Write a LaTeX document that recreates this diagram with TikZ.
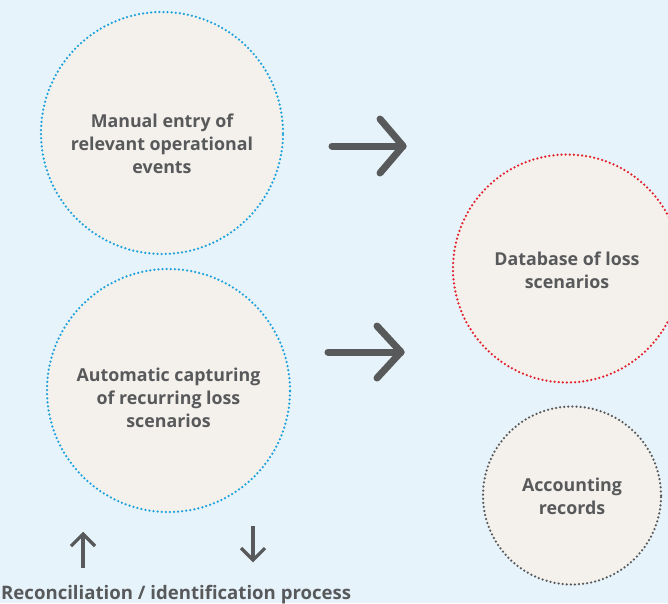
\documentclass[tikz,border=0pt]{standalone}
\usepackage{fontspec}
\setmainfont{Open Sans}
\definecolor{bg}{HTML}{E6F3FA}
\definecolor{bubblefill}{HTML}{F4F1EC}
\definecolor{ink}{HTML}{58595B}
\definecolor{dotblue}{HTML}{1BA1DC}
\definecolor{dotred}{HTML}{E3202A}
\definecolor{dotgrey}{HTML}{58595B}
\begin{document}
\begin{tikzpicture}[x=1pt,y=-1pt,
  bubble/.style={circle, fill=bubblefill, draw=#1, line width=2.5pt,
    dash pattern=on 0pt off 4.1pt, line cap=round, inner sep=0pt},
  caption/.style={text=ink, font=\bfseries\fontsize{17.8}{23}\selectfont,
    align=center, inner sep=0pt},
  bigarrow/.style={draw=ink, line width=7pt, line cap=round, line join=round},
  thinarrow/.style={draw=ink, line width=3.2pt, line cap=butt, line join=miter}]
  % background and page frame
  \fill[bg] (0,0) rectangle (668,603);
  \useasboundingbox (0,0) rectangle (668,603);

  % the four bubbles
  \node[bubble=dotblue, minimum size=242pt] (manual) at (162,133) {};
  \node[bubble=dotblue, minimum size=243pt] (auto) at (168.5,390.5) {};
  \node[bubble=dotred, minimum size=228pt] (db) at (567,268.5) {};
  \node[bubble=dotgrey, minimum size=178pt] (acc) at (572,495.5) {};

  % bubble captions
  \node[caption] (manualtxt) at ([yshift=-11pt]manual.center)
    {Manual entry of\\relevant operational\\events};
  \node[caption] (autotxt) at ([yshift=-7pt]auto.center)
    {Automatic capturing\\of recurring loss\\scenarios};
  \node[caption] (dbtxt) at ([yshift=-2pt]db.center)
    {Database of loss\\scenarios};
  \node[caption] (acctxt) at ([yshift=-1pt]acc.center)
    {Accounting\\records};

  % large arrows towards the database
  \coordinate (a1s) at (332,146);
  \coordinate (a1e) at (403,146);
  \draw[bigarrow] (a1s) -- (a1e);
  \draw[bigarrow] ([shift={(-23,-27)}]a1e) -- (a1e) -- ([shift={(-23,27)}]a1e);
  \coordinate (a2s) at (328,352);
  \coordinate (a2e) at (401,352);
  \draw[bigarrow] (a2s) -- (a2e);
  \draw[bigarrow] ([shift={(-24,-26)}]a2e) -- (a2e) -- ([shift={(-24,26)}]a2e);

  % reconciliation arrows
  \coordinate (upS) at (83,568);
  \coordinate (upE) at (83,534);
  \draw[thinarrow] (upS) -- (upE);
  \draw[thinarrow] ([shift={(-12,12)}]upE) -- (upE) -- ([shift={(12,12)}]upE);
  \coordinate (dnS) at (253,526);
  \coordinate (dnE) at (253,560);
  \draw[thinarrow] (dnS) -- (dnE);
  \draw[thinarrow] ([shift={(-12,-12)}]dnE) -- (dnE) -- ([shift={(12,-12)}]dnE);

  \node[caption, font=\bfseries\fontsize{18.6}{23}\selectfont,
    anchor=base west] (recon) at (1,599)
    {Reconciliation / identification process};
\end{tikzpicture}
\end{document}
